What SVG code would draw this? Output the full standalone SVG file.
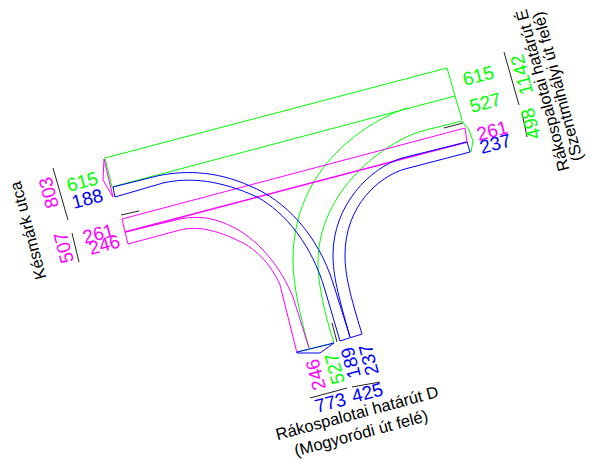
<svg xmlns="http://www.w3.org/2000/svg" width="590" height="461" viewBox="0 0 590 461">
<style>
.l{fill:none;stroke-width:1;stroke-linejoin:round}
.g{stroke:#00ff00}.b{stroke:#0000ff}.m{stroke:#ff00ff}
.k{stroke:#222;stroke-width:1;fill:none}
text{font-family:"Liberation Sans",Arial,sans-serif;text-anchor:middle}
.n{font-size:19px}.t{font-size:16.500px;fill:#000}
.tg{fill:#00ff00}.tb{fill:#0000ff}.tm{fill:#ff00ff}
</style>
<rect width="590" height="461" fill="#fff"/>
<g id="green" class="l g">
<path d="M105 158L447 68L462 120"/>
<path d="M105 158L112 187L455 96"/>
<path d="M407 108C370 120 293 165 293 260C293 285 300 315 309 348"/>
<path d="M462 121L422 131C385 142 318 190 318 263C318 285 325 315 334 343"/>
<path d="M462 121L469 130L473 141L471 152"/>
<path d="M298 352L334 343"/>
</g>
<g id="magenta" class="l m">
<path d="M122 219L465 128L467 142"/>
<path d="M122 219L125 232L128 244"/>
<path d="M125 232L467 142" stroke-width="1.400"/>
<path d="M125 232L180 219C200 215 215 218 235 228C262 243 282 270 293 297L309 348"/>
<path d="M128 244L180 230C200 225 222 232 245 244C265 256 276 275 280 285L297 353"/>
<path d="M104 159L103 180L113 197L104 159"/>
</g>
<g id="blue" class="l b">
<path d="M113 187L153 177C180 170 215 170 250 186C285 200 318 235 333 283L350 337"/>
<path d="M115 197L163 183C190 177 220 180 257 197C285 212 312 245 325 290L340 341"/>
<path d="M467 142L402 158C370 168 333 205 333 255C333 275 338 295 350 337"/>
<path d="M470 152L405 169C380 176 345 205 345 255C345 275 350 295 362 334"/>
<path d="M113 187L115 197"/>
<path d="M467 142L470 152"/>
<path d="M340 341L362 334"/>
<path d="M297 352L334 343L320 353L297 353Z"/>
</g>
<g id="ticks">
<path class="k" d="M53 168L68 220M72 233L79 262M504 52L519 105M522 113L527 137M310 398L347 388M352 387L380 382M121 215L139 211M444 128L463 123M332 323L337 342"/>
</g>
<g id="left-labels" class="n">
<text class="tg" transform="translate(84 188) rotate(-15)">615</text>
<text class="tb" transform="translate(89 205) rotate(-15)">188</text>
<text class="tm" transform="translate(100 240) rotate(-15)">261</text>
<text class="tm" transform="translate(106 251) rotate(-15)">246</text>
<text class="tm" transform="translate(55 191) rotate(-105)">803</text>
<text class="tm" transform="translate(70 246) rotate(-105)">507</text>
<text class="t" transform="translate(33.500 229) rotate(-105)">Késmárk utca</text>
</g>
<g id="right-labels" class="n">
<text class="tg" transform="translate(480 82) rotate(-15)">615</text>
<text class="tg" transform="translate(487 109) rotate(-15)">527</text>
<text class="tm" transform="translate(494 137) rotate(-15)">261</text>
<text class="tb" transform="translate(497 150) rotate(-15)">237</text>
<text class="tg" transform="translate(528 73) rotate(-105)">1142</text>
<text class="tg" transform="translate(537 122) rotate(-105)">498</text>
<text class="t" transform="translate(548 89) rotate(-105)">Rákospalotai határút É</text>
<text class="t" transform="translate(563 85) rotate(-105)">(Szentmihályi út felé)</text>
</g>
<g id="bottom-labels" class="n">
<text class="tm" transform="translate(322 373) rotate(-105)">246</text>
<text class="tg" transform="translate(341 367) rotate(-105)">527</text>
<text class="tb" transform="translate(357 361) rotate(-105)">189</text>
<text class="tb" transform="translate(375 358) rotate(-105)">237</text>
<text class="tb" transform="translate(332 409) rotate(-15)">773</text>
<text class="tb" transform="translate(369 399) rotate(-15)">425</text>
<text class="t" transform="translate(358.500 418.500) rotate(-15)">Rákospalotai határút D</text>
<text class="t" transform="translate(362.500 438.500) rotate(-15)">(Mogyoródi út felé)</text>
</g>
</svg>
